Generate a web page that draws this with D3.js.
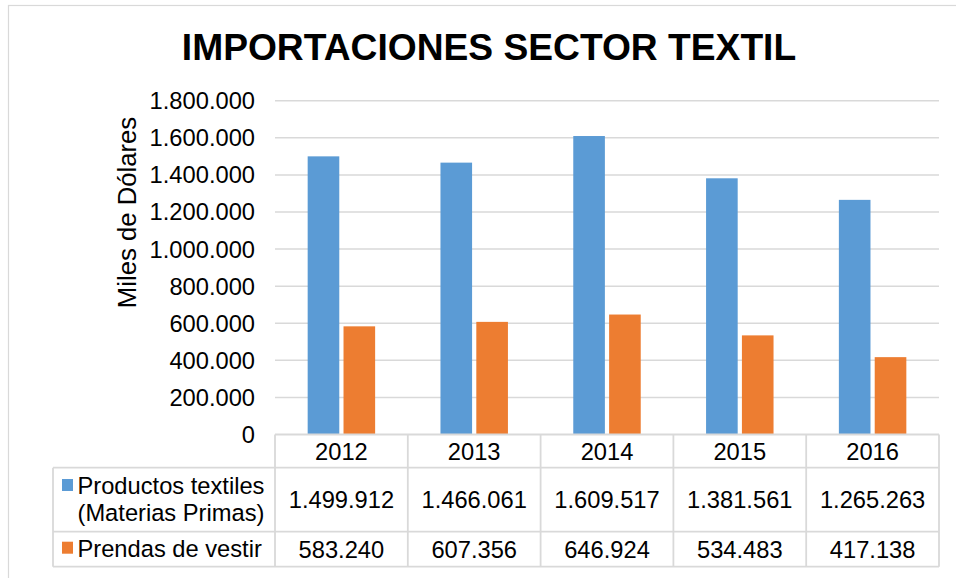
<!DOCTYPE html>
<html><head><meta charset="utf-8">
<script src="https://cdn.jsdelivr.net/npm/d3@7"></script>
<style>
html,body{margin:0;padding:0;background:#fff;}
svg{display:block;font-family:"Liberation Sans",Arial,sans-serif;}
</style></head>
<body><svg id="c" width="956" height="578"></svg>
<script>
const title = "IMPORTACIONES SECTOR TEXTIL";
const yAxisTitle = "Miles de Dólares";
const years = ["2012","2013","2014","2015","2016"];
const seriesNames = [["Productos textiles","(Materias Primas)"],["Prendas de vestir"]];
const textiles = [1499912,1466061,1609517,1381561,1265263];
const prendas = [583240,607356,646924,534483,417138];
const colors = ["#5B9BD5","#ED7D31"];
const yTicks = [0,200000,400000,600000,800000,1000000,1200000,1400000,1600000,1800000];

const series = [textiles, prendas];
const loc = d3.formatLocale({decimal:",",thousands:".",grouping:[3],currency:["",""]});
const fmt = loc.format(",");

const svg = d3.select("#c");
const grid = "#D9D9D9";
const fs = 23.7;

// chart border
svg.append("rect").attr("x",8.5).attr("y",5.5).attr("width",970).attr("height",600)
  .attr("fill","none").attr("stroke",grid).attr("stroke-width",1.2);

const x0 = 275, x1 = 939, yTop = 100.7, yZero = 434.5;
const x = d3.scaleBand().domain(years).range([x0,x1]).paddingInner(0).paddingOuter(0);
const y = d3.scaleLinear().domain([0,1800000]).range([yZero,yTop]);
const bw = x.bandwidth();
const barW = bw*0.224, gap = bw*0.06;
const xs = d3.scaleBand().domain([0,1]).range([bw/2 - barW - gap/2, bw/2 + barW + gap/2]).paddingInner(gap/(2*barW+gap));

// gridlines
svg.append("g").selectAll("line").data(yTicks.filter(d=>d>0)).join("line")
  .attr("x1",x0).attr("x2",x1).attr("y1",d=>y(d)).attr("y2",d=>y(d))
  .attr("stroke",grid).attr("stroke-width",1.5);

// y tick labels
svg.append("g").selectAll("text").data(yTicks).join("text")
  .attr("x",255).attr("y",d=>y(d)).attr("dy","0.36em").attr("text-anchor","end")
  .attr("font-size",fs).attr("fill","#000").text(d=>fmt(d));

// bars
series.forEach((vals,si)=>{
  svg.append("g").selectAll("rect").data(vals).join("rect")
    .attr("x",(d,i)=>x(years[i])+xs(si)).attr("width",xs.bandwidth())
    .attr("y",d=>y(d)).attr("height",d=>yZero-y(d)).attr("fill",colors[si]);
});

// title
svg.append("text").attr("x",489).attr("y",60).attr("text-anchor","middle")
  .attr("font-size",37.2).attr("font-weight","bold").text(title);

// axis title
svg.append("text").attr("transform","translate(135.5,212.5) rotate(-90)")
  .attr("text-anchor","middle").attr("font-size",25.7).text(yAxisTitle);

// data table
const rH = 467.7, r1 = 531.7, r2 = 566.7, lx = 53;
const tl = svg.append("g").attr("stroke",grid).attr("stroke-width",1.8);
tl.append("line").attr("x1",x0).attr("x2",x1).attr("y1",yZero).attr("y2",yZero);
[rH,r1,r2].forEach(v=>tl.append("line").attr("x1",lx).attr("x2",x1).attr("y1",v).attr("y2",v));
tl.append("line").attr("x1",lx).attr("x2",lx).attr("y1",rH).attr("y2",r2);
years.forEach(yr=>tl.append("line").attr("x1",x(yr)).attr("x2",x(yr)).attr("y1",yZero).attr("y2",r2));
tl.append("line").attr("x1",x1).attr("x2",x1).attr("y1",yZero).attr("y2",r2);

// header years
svg.append("g").selectAll("text").data(years).join("text")
  .attr("x",d=>x(d)+bw/2).attr("y",(yZero+rH)/2).attr("dy","0.36em")
  .attr("text-anchor","middle").attr("font-size",fs).text(d=>d);

// values rows
const rowsC = [(rH+r1)/2,(r1+r2)/2];
series.forEach((vals,si)=>{
  svg.append("g").selectAll("text").data(vals).join("text")
    .attr("x",(d,i)=>x(years[i])+bw/2).attr("y",rowsC[si]).attr("dy","0.36em")
    .attr("text-anchor","middle").attr("font-size",fs).text(d=>fmt(d));
});

// legend labels
const firstBase = [494, 556.7];
seriesNames.forEach((lines,si)=>{
  svg.append("rect").attr("x",62).attr("y",firstBase[si]-15).attr("width",11).attr("height",12)
    .attr("fill",colors[si]);
  lines.forEach((t,li)=>{
    svg.append("text").attr("x",77.5).attr("y",firstBase[si]+li*26.5)
      .attr("font-size",fs).text(t);
  });
});
</script></body></html>
